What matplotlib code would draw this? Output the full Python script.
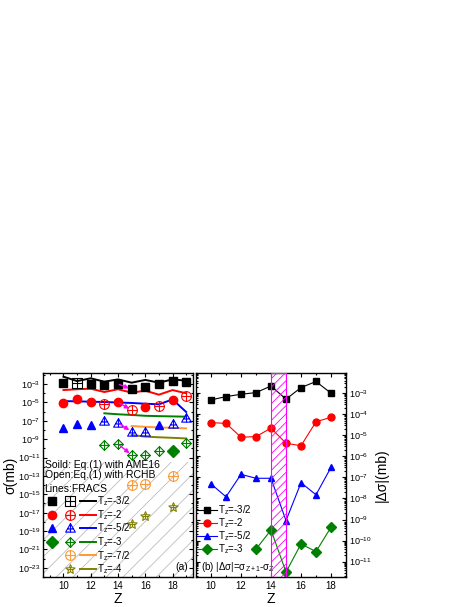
import numpy as np
import matplotlib
matplotlib.use('Agg')
import matplotlib.pyplot as plt
import matplotlib.ticker as mticker
from matplotlib.path import Path
from matplotlib.lines import Line2D
from matplotlib.legend_handler import HandlerTuple

plt.rcParams['font.family'] = ['Liberation Sans', 'DejaVu Sans']
plt.rcParams['mathtext.fontset'] = 'custom'
plt.rcParams['mathtext.rm'] = 'Liberation Sans'
plt.rcParams['mathtext.it'] = 'Liberation Sans:italic'
plt.rcParams['mathtext.default'] = 'regular'
plt.rcParams['hatch.linewidth'] = 0.6

nan = np.nan

# ---- panel (a): cross sections, Z = 10..19
Z = np.arange(10, 20)

ame_32 = [1.4e-3, nan, 1.0e-3, 7.2e-4, 1.0e-3, 2.7e-4, 5.1e-4, 1.0e-3, 2.3e-3, 1.7e-3]
rchb_32 = [nan, 1.2e-3, nan, nan, nan, nan, nan, nan, nan, nan]
fracs_32 = [6.3e-3, 2.1e-3, 4.2e-3, 1.8e-3, 3.2e-3, 1.4e-3, 2.8e-3, 1.4e-3, 3.2e-3, 2.3e-3]

ame_2 = [7.9e-6, 2.2e-5, 1.0e-5, nan, 1.0e-5, nan, 3.0e-6, nan, 1.8e-5, nan]
rchb_2 = [nan, nan, nan, 6.8e-6, nan, 1.5e-6, nan, 4.1e-6, nan, 5.0e-5]
fracs_2 = [2.2e-4, 2.7e-4, 3.1e-4, 1.35e-4, 2.7e-4, 1.15e-4, 1.9e-4, 6.9e-5, 2.2e-4, 9.8e-5]

ame_52 = [1.7e-8, 4.0e-8, 3.5e-8, nan, nan, nan, nan, 3.5e-8, nan, nan]
rchb_52 = [nan, nan, nan, 9.5e-8, 6.2e-8, 6.5e-9, 6.5e-9, nan, 4.2e-8, 1.9e-7]
fracs_52 = [1.4e-5, 1.3e-5, 1.2e-5, 1.1e-5, 9.8e-6, 8.7e-6, 7.2e-6, 6.2e-6, 2.1e-5, 9.1e-7]

ame_3 = [nan, nan, nan, nan, nan, nan, nan, nan, 5.6e-11, nan]
rchb_3 = [nan, nan, nan, 2.3e-10, 3.0e-10, 1.9e-11, 1.9e-11, 5.6e-11, nan, 3.5e-10]
fracs_3 = [nan, nan, nan, 6.5e-7, 5.1e-7, 4.3e-7, 3.5e-7, 3.2e-7, 3.0e-7, 2.8e-7]

rchb_72 = [nan, nan, nan, nan, nan, 1.0e-14, 1.3e-14, nan, 9.8e-14, nan]
fracs_72 = [nan, nan, nan, nan, nan, 2.7e-8, 2.2e-8, 1.9e-8, 1.7e-8, 1.5e-8]

rchb_4 = [nan, nan, nan, nan, nan, 5.9e-19, 4.4e-18, nan, 4.5e-17, nan]
fracs_4 = [nan, nan, nan, nan, nan, 2.8e-9, 1.9e-9, 1.6e-9, 1.4e-9, 1.2e-9]

# ---- panel (b): |delta sigma|, Z = 10..18
Zb = np.arange(10, 19)
dsig_32 = [4.8e-4, 6.9e-4, 8.9e-4, 1.07e-3, 2.2e-3, 5.2e-4, 1.85e-3, 3.6e-3, 1.0e-3]
dsig_2 = [4.0e-5, 3.7e-5, 8.1e-6, 8.7e-6, 2.2e-5, 4.2e-6, 3.2e-6, 4.4e-5, 7.2e-5]
dsig_52 = [4.9e-8, 1.2e-8, 1.4e-7, 9.1e-8, 9.1e-8, 8.9e-10, 5.6e-8, 1.5e-8, 3.0e-7]
dsig_3 = [nan, nan, nan, 3.9e-11, 3.2e-10, 3.2e-12, 6.9e-11, 3.0e-11, 4.3e-10]

labels = ['T$_z$=-3/2', 'T$_z$=-2', 'T$_z$=-5/2', 'T$_z$=-3', 'T$_z$=-7/2', 'T$_z$=-4']
colors = ['black', 'red', 'blue', 'green', '#ff9933', '#808000']


# open markers with a cross inside (Origin style)
def crossed(outline, cross=None):
    if cross is None:
        cross = [(-1, 0), (1, 0), (0, -1), (0, 1)]
    c = Path(cross, [Path.MOVETO, Path.LINETO, Path.MOVETO, Path.LINETO])
    return Path.make_compound_path(outline, c)

m_sq = crossed(Path([(-1, -1), (1, -1), (1, 1), (-1, 1), (-1, -1)], closed=True))
m_ci = crossed(Path.unit_circle())
m_tr = crossed(Path([(0, 1), (-1, -0.75), (1, -0.75), (0, 1)], closed=True),
               [(-0.55, -0.1), (0.55, -0.1), (0, 1), (0, -0.75)])
m_di = crossed(Path([(0, 1), (1, 0), (0, -1), (-1, 0), (0, 1)], closed=True))
m_st = crossed(Path.unit_regular_star(5, 0.45), [(-0.45, 0), (0.45, 0), (0, -0.4), (0, 0.5)])

filled_m = ['s', 'o', '^', 'D', None, None]
open_m = [m_sq, m_ci, m_tr, m_di, m_ci, m_st]
ame = [ame_32, ame_2, ame_52, ame_3, None, None]
rchb = [rchb_32, rchb_2, rchb_52, rchb_3, rchb_72, rchb_4]
fracs = [fracs_32, fracs_2, fracs_52, fracs_3, fracs_72, fracs_4]

fig = plt.figure(figsize=(4.69, 6.07), dpi=100)
ax1 = fig.add_axes([43 / 469, 1 - 577 / 607, 150 / 469, 204 / 607])
ax2 = fig.add_axes([196 / 469, 1 - 577 / 607, 150 / 469, 204 / 607])

# ---- panel (a)
ax1.axhspan(1e-24, 10 ** -11.45, facecolor='none', edgecolor='#bdbdbd',
            hatch='//', lw=0, zorder=0)

handles = []
for i in range(6):
    fl = Line2D([], [], ls='none')
    if ame[i] is not None:
        fl, = ax1.plot(Z, ame[i], ls='none', marker=filled_m[i], ms=6,
                       color=colors[i], mec=colors[i], zorder=3)
    op, = ax1.plot(Z, rchb[i], ls='none', marker=open_m[i], ms=7,
                   mfc='none', mec=colors[i], mew=0.8, zorder=3)
    ln, = ax1.plot(Z, fracs[i], color=colors[i], lw=1.4, zorder=2)
    handles.append((fl, op, ln))

    # arrow Z=14 -> Z=15
    if i < 4:
        both = np.where(np.isnan(ame[i]), rchb[i], ame[i])
        ax1.annotate('', xy=(15, both[5]), xytext=(14, both[4]),
                     arrowprops=dict(arrowstyle='-|>', color='magenta', lw=1.0,
                                     mutation_scale=6, shrinkA=1, shrinkB=2),
                     zorder=4)

ax1.legend(handles, labels, loc='upper left', bbox_to_anchor=(0.0, 0.41),
           frameon=False, fontsize=7, handlelength=5.4, handletextpad=0.1,
           labelspacing=-0.02, borderpad=0.1, borderaxespad=0, markerscale=1.0,
           handler_map={h: HandlerTuple(ndivide=3, pad=0.2) for h in handles})

ax1.text(0.01, 0.55, 'Soild: Eq.(1) with AME16', transform=ax1.transAxes,
         fontsize=7.5, va='center')
ax1.text(0.01, 0.5, 'Open:Eq.(1) with RCHB', transform=ax1.transAxes,
         fontsize=7.5, va='center')
ax1.text(0.01, 0.43, 'Lines:FRACS', transform=ax1.transAxes,
         fontsize=7.5, va='center')
ax1.text(0.925, 0.05, '(a)', transform=ax1.transAxes, fontsize=7.5,
         ha='center', va='center')

ax1.set_yscale('log')
ax1.set_xlim(8.5, 19.5)
ax1.set_ylim(1e-24, 10 ** -1.8)
ax1.yaxis.set_major_locator(mticker.FixedLocator([10.0 ** -k for k in range(3, 24, 2)]))
ax1.yaxis.set_major_formatter(mticker.LogFormatterSciNotation())
ax1.yaxis.set_minor_locator(mticker.LogLocator(base=10, subs=(1.0,), numticks=40))
ax1.yaxis.set_minor_formatter(mticker.NullFormatter())
ax1.xaxis.set_major_locator(mticker.FixedLocator([10, 12, 14, 16, 18]))
ax1.xaxis.set_minor_locator(mticker.MultipleLocator(1))
ax1.set_xlabel('Z', fontsize=10)
ax1.set_ylabel('σ(mb)', fontsize=10)
ax1.xaxis.set_label_coords(0.5, -0.075)
ax1.yaxis.set_label_coords(-0.17, 0.5)

# ---- panel (b)
ax2.axvspan(14, 15, facecolor='none', edgecolor='magenta', hatch='////',
            lw=0.8, zorder=5)
bmark = ['s', 'o', '^', 'D']
dsig = [dsig_32, dsig_2, dsig_52, dsig_3]
for i in range(4):
    ax2.plot(Zb, dsig[i], color=colors[i], lw=0.8, marker=bmark[i], ms=5,
             label=labels[i])

ax2.legend(loc='upper left', bbox_to_anchor=(0.0, 0.365), frameon=False,
           fontsize=7, handlelength=2.1, handletextpad=0.1, labelspacing=-0.1,
           borderpad=0.1, borderaxespad=0, markerscale=1.0)
ax2.text(0.03, 0.048, '(b) |Δσ|=σ$_{Z+1}$-σ$_Z$', transform=ax2.transAxes,
         fontsize=7, va='center')

ax2.set_yscale('log')
ax2.set_xlim(9, 19)
ax2.set_ylim(10 ** -11.73, 10 ** -2.04)
ax2.yaxis.set_major_locator(mticker.LogLocator(base=10, numticks=20))
ax2.yaxis.set_minor_locator(mticker.LogLocator(base=10, subs=np.arange(2, 10), numticks=20))
ax2.yaxis.set_minor_formatter(mticker.NullFormatter())
ax2.xaxis.set_major_locator(mticker.FixedLocator([10, 12, 14, 16, 18]))
ax2.xaxis.set_minor_locator(mticker.MultipleLocator(1))
ax2.yaxis.tick_right()
ax2.yaxis.set_label_position('right')
ax2.set_xlabel('Z', fontsize=10)
ax2.set_ylabel('|Δσ|(mb)', fontsize=10)
ax2.xaxis.set_label_coords(0.5, -0.075)
ax2.yaxis.set_label_coords(1.19, 0.5)

for ax in (ax1, ax2):
    ax.tick_params(which='both', direction='in', top=True, right=True,
                   left=True, width=0.8)
    ax.tick_params(axis='x', labelsize=7, pad=3)
    ax.tick_params(axis='y', labelsize=6.5, pad=2)
    ax.tick_params(which='major', length=3)
    ax.tick_params(which='minor', length=1.5)
    for s in ax.spines.values():
        s.set_linewidth(1.0)

fig.savefig('out.png', dpi=100)
